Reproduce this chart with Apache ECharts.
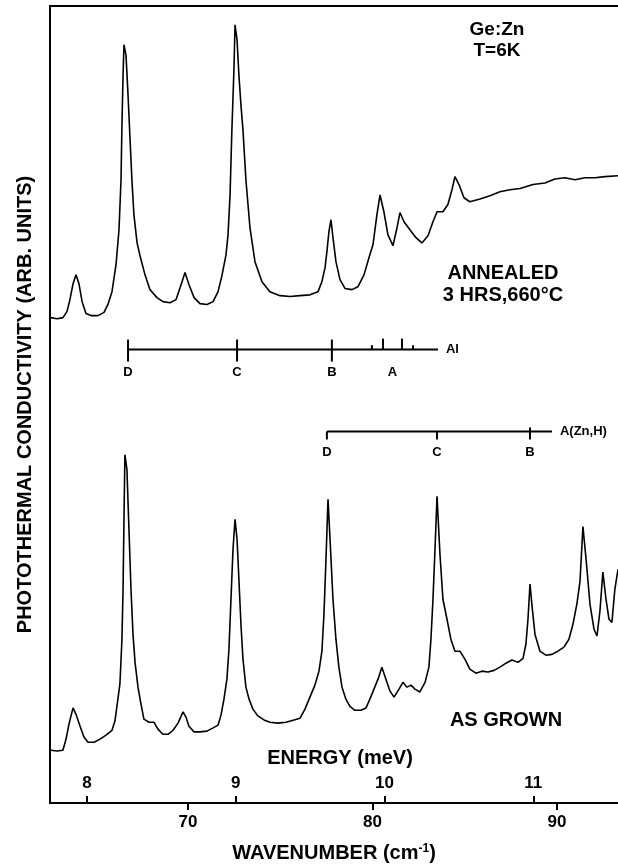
<!DOCTYPE html>
<html>
<head>
<meta charset="utf-8">
<title>Ge:Zn photothermal conductivity</title>
<script src="https://cdn.jsdelivr.net/npm/echarts@6/dist/echarts.min.js"></script>
<style>
  html, body { margin: 0; padding: 0; background: #fff; }
  #chart { width: 618px; height: 868px; }
</style>
</head>
<body>
<div id="chart"></div>
<script>
// Wavenumber (cm^-1) and photoconductive signal (arb. units) for the annealed sample
const annealedWn = [62.57, 62.90, 63.22, 63.44, 63.60, 63.77, 63.93, 64.09, 64.26, 64.47, 64.74, 65.12, 65.45, 65.66, 65.88,
  66.10, 66.26, 66.37, 66.42, 66.48, 66.53, 66.64, 66.75, 66.86, 66.96, 67.07, 67.24, 67.40, 67.67, 67.94,
  68.32, 68.64, 69.02, 69.35, 69.57, 69.84, 70.05, 70.33, 70.65, 71.03, 71.36, 71.63, 71.84, 72.06, 72.17,
  72.28, 72.38, 72.49, 72.55, 72.66, 72.76, 72.87, 72.98, 73.14, 73.36, 73.63, 74.01, 74.44, 74.99, 75.53,
  76.07, 76.61, 77.05, 77.26, 77.43, 77.53, 77.64, 77.75, 77.86, 78.02, 78.24, 78.51, 78.89, 79.21, 79.54,
  79.81, 80.03, 80.24, 80.41, 80.62, 80.84, 81.11, 81.33, 81.49, 81.71, 82.03, 82.36, 82.68, 83.01, 83.28,
  83.50, 83.82, 84.09, 84.31, 84.47, 84.69, 84.96, 85.28, 85.83, 86.37, 86.91, 87.45, 88.00, 88.70, 89.35,
  89.89, 90.43, 90.98, 91.52, 92.06, 92.60, 93.31];
const annealedSig = [60.75, 60.6, 60.75, 61.5, 63.0, 65.0, 66.1, 65.0, 62.75, 61.25, 61.0, 61.0, 61.4, 62.4, 64.0,
  67.4, 71.75, 78.0, 84.9, 91.1, 94.9, 93.6, 88.6, 83.0, 78.0, 73.6, 70.1, 68.5, 66.1, 64.25,
  63.25, 62.75, 62.6, 63.0, 64.5, 66.4, 64.9, 63.25, 62.5, 62.4, 62.75, 64.0, 66.0, 68.6, 71.1,
  76.1, 84.25, 91.75, 97.4, 95.5, 91.1, 87.4, 84.25, 78.0, 72.0, 67.75, 65.25, 64.0, 63.5, 63.4,
  63.5, 63.6, 64.0, 65.25, 67.0, 69.0, 71.5, 73.0, 70.75, 67.75, 65.5, 64.4, 64.25, 64.6, 66.1,
  68.25, 69.9, 73.6, 76.1, 74.0, 71.1, 69.75, 72.0, 73.9, 72.75, 71.75, 70.75, 70.1, 71.0, 72.75,
  74.0, 74.0, 74.9, 76.75, 78.4, 77.4, 75.75, 75.25, 75.6, 76.0, 76.5, 76.75, 76.9, 77.4, 77.6,
  78.1, 78.25, 78.0, 78.25, 78.25, 78.4, 78.5];

// Same measurement for the as-grown sample
const grownWn = [62.57, 62.90, 63.22, 63.39, 63.55, 63.77, 63.93, 64.15, 64.36, 64.58, 64.91, 65.23, 65.56, 65.88, 66.04,
  66.20, 66.31, 66.42, 66.48, 66.53, 66.58, 66.69, 66.80, 66.91, 67.02, 67.13, 67.29, 67.45, 67.61, 67.89,
  68.16, 68.37, 68.64, 68.91, 69.19, 69.46, 69.73, 69.89, 70.05, 70.33, 70.65, 71.03, 71.36, 71.63, 71.79,
  71.95, 72.11, 72.22, 72.33, 72.44, 72.55, 72.66, 72.76, 72.87, 72.98, 73.14, 73.31, 73.52, 73.79, 74.12,
  74.44, 74.88, 75.31, 75.75, 76.07, 76.34, 76.61, 76.88, 77.10, 77.26, 77.37, 77.48, 77.59, 77.70, 77.86,
  78.02, 78.18, 78.35, 78.56, 78.78, 79.05, 79.38, 79.65, 79.86, 80.08, 80.30, 80.51, 80.73, 80.95, 81.17,
  81.44, 81.65, 81.87, 82.09, 82.30, 82.57, 82.85, 83.06, 83.17, 83.28, 83.39, 83.50, 83.66, 83.82, 84.04,
  84.25, 84.47, 84.74, 85.01, 85.28, 85.61, 85.93, 86.26, 86.59, 86.91, 87.24, 87.56, 87.89, 88.16, 88.32,
  88.43, 88.54, 88.64, 88.81, 89.08, 89.40, 89.73, 90.05, 90.38, 90.65, 90.87, 91.08, 91.25, 91.41, 91.58,
  91.79, 92.01, 92.17, 92.33, 92.49, 92.66, 92.82, 92.98, 93.14, 93.31];
const grownSig = [6.6, 6.5, 6.6, 8.0, 9.9, 11.9, 11.1, 9.6, 8.25, 7.6, 7.6, 8.0, 8.5, 9.1, 10.25,
  13.0, 14.9, 20.5, 26.75, 35.5, 43.6, 41.75, 34.25, 26.75, 21.1, 17.6, 14.5, 12.4, 10.5, 10.1,
  10.1, 9.25, 8.6, 8.6, 9.1, 10.0, 11.4, 10.75, 9.6, 8.9, 8.9, 9.0, 9.4, 9.75, 11.0,
  13.0, 15.5, 19.25, 25.5, 31.75, 35.5, 33.0, 28.0, 22.4, 18.0, 14.5, 13.0, 11.75, 10.9, 10.4,
  10.1, 10.0, 10.1, 10.4, 10.6, 11.75, 13.25, 14.75, 16.5, 19.0, 23.6, 30.5, 38.0, 33.0, 25.5,
  20.5, 17.0, 14.5, 13.0, 12.1, 11.6, 11.6, 11.9, 13.0, 14.25, 15.5, 17.0, 15.5, 14.0, 13.25,
  14.25, 15.1, 14.5, 14.75, 14.25, 13.9, 15.1, 17.0, 20.5, 25.5, 31.75, 38.4, 31.1, 25.5, 23.0,
  20.5, 19.0, 19.0, 18.0, 16.75, 16.25, 16.5, 16.4, 16.6, 17.0, 17.5, 17.9, 17.6, 18.1, 19.9,
  23.0, 27.4, 24.9, 21.1, 19.0, 18.5, 18.6, 19.0, 19.5, 20.5, 22.4, 24.9, 27.75, 34.6, 30.5,
  24.9, 21.75, 20.9, 24.0, 28.9, 25.5, 23.0, 22.6, 26.75, 29.25];

// Line positions (cm^-1) of the Al acceptor series and the A(Zn,H) series
const alLines = [66.75, 72.66, 77.80];
const alTags = ['D', 'C', 'B'];
const alALines = [79.97, 80.57, 81.60, 82.20];
const alAStrength = [0.4, 1, 1, 0.4];
const alEnd = 83.55;
const znhLines = [77.53, 83.50, 88.54];
const znhTags = ['D', 'C', 'B'];
const znhEnd = 89.73;

// Axis ticks
const wnTicks = [70, 80, 90];
const meVTicks = [8, 9, 10, 11];
const CM_PER_MEV = 8.0655;

const WN_MIN = 62.52, WN_MAX = 93.31;
const SIG_MAX = 99.75;
const AL_LEVEL = 56.75, ZNH_LEVEL = 46.5;

const FONT = '"Liberation Sans", Arial, Helvetica, sans-serif';
const INK = '#000';

const zip = (a, b) => a.map((v, i) => [v, b[i]]);

// Horizontal ladder with labelled vertical ticks, placed in data coordinates
function ladder(spec) {
  return {
    type: 'custom',
    silent: true,
    clip: false,
    xAxisIndex: 0,
    yAxisIndex: 0,
    data: [[spec.lines[0], spec.level]],
    renderItem(params, api) {
      const pen = { stroke: INK, lineWidth: 2 };
      const [xs, y] = api.coord([spec.lines[0], spec.level]);
      const [xe] = api.coord([spec.end, spec.level]);
      const kids = [{ type: 'line', shape: { x1: xs, y1: y, x2: xe, y2: y }, style: pen }];
      spec.lines.forEach((wn, i) => {
        const [x] = api.coord([wn, spec.level]);
        kids.push({ type: 'line', shape: { x1: x, y1: y - spec.up[i], x2: x, y2: y + spec.down }, style: pen });
        kids.push({ type: 'text', style: { text: spec.tags[i], x: x, y: y + spec.tagGap, align: 'center', verticalAlign: 'middle',
          font: `bold 13px ${FONT}`, fill: INK } });
      });
      if (spec.sub) {
        spec.sub.lines.forEach((wn, i) => {
          const [x] = api.coord([wn, spec.level]);
          kids.push({ type: 'line', shape: { x1: x, y1: y, x2: x, y2: y - 11 * spec.sub.strength[i] }, style: pen });
        });
        const mid = (spec.sub.lines[0] + spec.sub.lines[spec.sub.lines.length - 1]) / 2;
        const [xm] = api.coord([mid, spec.level]);
        kids.push({ type: 'text', style: { text: spec.sub.tag, x: xm, y: y + spec.tagGap, align: 'center', verticalAlign: 'middle',
          font: `bold 13px ${FONT}`, fill: INK } });
      }
      kids.push({ type: 'text', style: { text: spec.name, x: xe + 8, y: y, align: 'left', verticalAlign: 'middle',
        font: `bold 13px ${FONT}`, fill: INK } });
      return { type: 'group', children: kids };
    }
  };
}

const chart = echarts.init(document.getElementById('chart'), null, { renderer: 'canvas' });

const boldText = (size) => ({ fontFamily: FONT, fontWeight: 'bold', fontSize: size, color: INK });

// Centered annotation text
const note = (text, cx, cy, size) => ({
  type: 'text', x: cx, y: cy, silent: true,
  style: { text, align: 'center', verticalAlign: 'middle', font: `bold ${size}px ${FONT}`, lineHeight: size + 2, fill: INK }
});

chart.setOption({
  animation: false,
  backgroundColor: '#fff',
  grid: { left: 50, right: 0, top: 6, bottom: 64 },
  xAxis: [
    {
      type: 'value', min: WN_MIN, max: WN_MAX, position: 'bottom',
      axisLine: { show: true, lineStyle: { color: INK, width: 2 } },
      axisTick: { show: true, customValues: wnTicks, length: 7, lineStyle: { color: INK, width: 2 } },
      axisLabel: { show: true, customValues: wnTicks, margin: 11, ...boldText(17) },
      splitLine: { show: false },
      name: 'WAVENUMBER (cm{sup|-1})',
      nameLocation: 'middle', nameGap: 40,
      nameTextStyle: { ...boldText(20), rich: { sup: { ...boldText(12), verticalAlign: 'top', padding: [0, 0, 8, 0] } } }
    },
    {
      type: 'value', min: WN_MIN / CM_PER_MEV, max: WN_MAX / CM_PER_MEV, position: 'bottom',
      axisLine: { show: false },
      axisTick: { show: true, inside: true, customValues: meVTicks, length: 7, lineStyle: { color: INK, width: 2 } },
      axisLabel: { show: true, inside: true, customValues: meVTicks, margin: 11, ...boldText(17) },
      splitLine: { show: false }
    },
    {
      type: 'value', min: WN_MIN, max: WN_MAX, position: 'top',
      axisLine: { show: true, lineStyle: { color: INK, width: 2 } },
      axisTick: { show: false }, axisLabel: { show: false }, splitLine: { show: false }
    }
  ],
  yAxis: {
    type: 'value', min: 0, max: SIG_MAX,
    axisLine: { show: true, lineStyle: { color: INK, width: 2 } },
    axisTick: { show: false }, axisLabel: { show: false }, splitLine: { show: false },
    name: 'PHOTOTHERMAL CONDUCTIVITY (ARB. UNITS)',
    nameLocation: 'middle', nameRotate: 90, nameGap: 15,
    nameTextStyle: boldText(20)
  },
  graphic: [
    note('Ge:Zn\nT=6K', 497, 40, 19),
    note('ANNEALED\n3 HRS,660°C', 503, 284, 20),
    note('AS GROWN', 506, 720, 20),
    note('ENERGY (meV)', 340, 758, 20)
  ],
  series: [
    {
      name: 'Annealed', type: 'line', xAxisIndex: 0, yAxisIndex: 0,
      data: zip(annealedWn, annealedSig), showSymbol: false, smooth: false,
      lineStyle: { color: INK, width: 1.6 }
    },
    {
      name: 'As grown', type: 'line', xAxisIndex: 0, yAxisIndex: 0,
      data: zip(grownWn, grownSig), showSymbol: false, smooth: false,
      lineStyle: { color: INK, width: 1.6 }
    },
    ladder({ lines: alLines, tags: alTags, end: alEnd, level: AL_LEVEL, up: [10, 10, 10], down: 12, tagGap: 23,
      name: 'Al', sub: { lines: alALines, strength: alAStrength, tag: 'A' } }),
    ladder({ lines: znhLines, tags: znhTags, end: znhEnd, level: ZNH_LEVEL, up: [0, 0, 4], down: 8, tagGap: 21,
      name: 'A(Zn,H)' })
  ]
});
</script>
</body>
</html>
